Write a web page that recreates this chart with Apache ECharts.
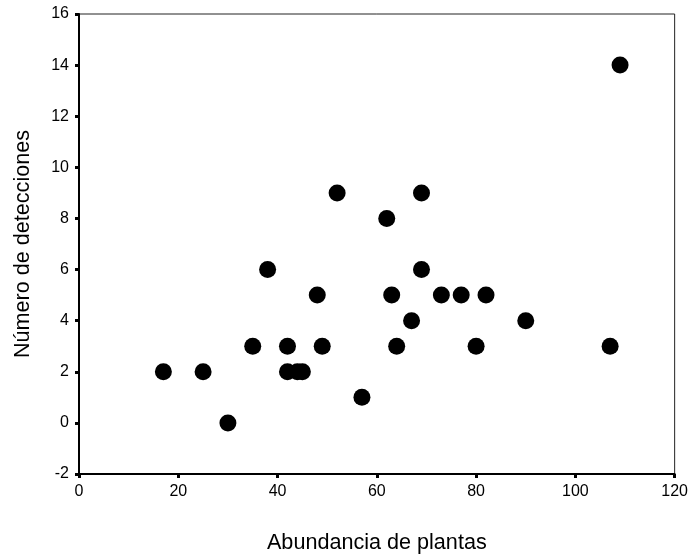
<!DOCTYPE html>
<html>
<head>
<meta charset="utf-8">
<script src="https://cdn.jsdelivr.net/npm/echarts@6/dist/echarts.min.js"></script>
<style>
  html, body { margin: 0; padding: 0; background: #fff; }
  #chart { width: 691px; height: 560px; }
</style>
</head>
<body>
<div id="chart"></div>
<script>
// Plant abundance vs. number of detections per site
const abundancia = [17, 25, 30, 35, 38, 42, 42, 44, 45, 48, 49, 52, 57, 62, 63, 64, 67, 69, 69, 73, 77, 80, 82, 90, 107, 109];
const detecciones = [2, 2, 0, 3, 6, 2, 3, 2, 2, 5, 3, 9, 1, 8, 5, 3, 4, 9, 6, 5, 5, 3, 5, 4, 3, 14];

const xTitle = 'Abundancia de plantas';
const yTitle = 'Número de detecciones';

const points = abundancia.map((x, i) => [x, detecciones[i]]);

const FONT = '"Liberation Sans", Arial, sans-serif';

const chart = echarts.init(document.getElementById('chart'), null, { renderer: 'canvas' });

const axisCommon = {
  axisLine: { show: true, onZero: false, lineStyle: { color: '#000', width: 2 } },
  axisTick: { show: true, inside: false, length: 4, lineStyle: { color: '#000', width: 3 } },
  axisLabel: { color: '#000', fontFamily: FONT, fontSize: 16, margin: 10 },
  splitLine: { show: false },
  nameLocation: 'middle',
  nameTextStyle: { color: '#000', fontFamily: FONT, fontSize: 21.6 }
};

chart.setOption({
  backgroundColor: '#fff',
  animation: false,
  grid: {
    left: 79, right: 14, top: 14, bottom: 86,
    show: true, borderColor: '#222', borderWidth: 1, backgroundColor: 'transparent'
  },
  xAxis: Object.assign({}, axisCommon, {
    type: 'value',
    min: 0, max: 120, interval: 20,
    name: xTitle,
    nameGap: 58
  }),
  yAxis: Object.assign({}, axisCommon, {
    type: 'value',
    min: -2, max: 16, interval: 2,
    name: yTitle,
    nameGap: 45
  }),
  series: [{
    type: 'scatter',
    data: points,
    symbol: 'circle',
    symbolSize: 17,
    itemStyle: { color: '#000', opacity: 1 }
  }]
});
</script>
</body>
</html>
